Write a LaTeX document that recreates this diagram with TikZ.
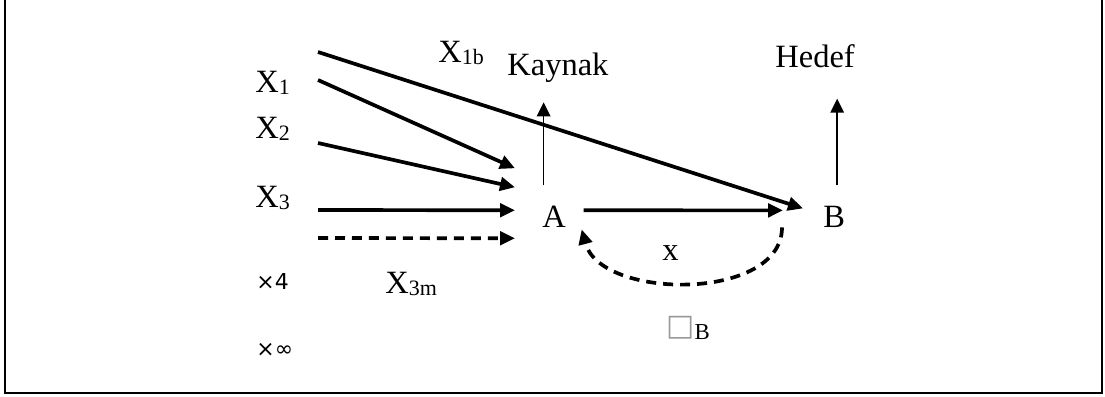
\documentclass[tikz,border=0pt]{standalone}
\usepackage{fontspec}
\setmainfont{Liberation Serif}
\newfontfamily\symfont{DejaVu Sans}
\usetikzlibrary{arrows.meta}
\newcommand{\lowidx}[1]{\raisebox{-1.7pt}{\fontsize{12.5}{13}\selectfont #1}}

\begin{document}
\begin{tikzpicture}[x=0.02cm, y=-0.02cm,
  every node/.style={inner sep=0pt, anchor=base west, font=\fontsize{18.5}{22}\selectfont},
  arr/.style={-{Triangle[length=0.3cm, width=0.27cm]}, line width=2.1pt},
  thinarr/.style={-{Triangle[length=0.28cm, width=0.27cm]}, line width=1pt},
  dasharr/.style={arr, dash pattern=on 0.2cm off 0.14cm},
  small/.style={font=\symfont\fontsize{12.5}{14}\selectfont}]
\useasboundingbox (0,0) rectangle (1105,396);
\draw[line width=1.5pt] (5,0) -- (5,393) -- (1102,393) -- (1102,0);

% labels
\node (lx1) at (255,92) {X\lowidx{1}};
\node (lx2) at (255,138) {X\lowidx{2}};
\node (lx3) at (255,207) {X\lowidx{3}};
\node (lx1b) at (438,62) {X\lowidx{1b}};
\node (lx3m) at (385,293) {X\lowidx{3m}};
\node[small] (lx4) at (256,289) {×4};
\node[small] (lxinf) at (256,356) {×∞};
\node (kaynak) at (507,75) {Kaynak};
\node (hedef) at (775,67) {Hedef};
\node (A) at (542,227) {A};
\node (B) at (823,227) {B};
\node (lx) at (662,260) {x};
\node (lb) at (666,335) {{\symfont\fontsize{17}{17}\selectfont\textcolor{gray!80}{□}}\raisebox{-2.5pt}{\fontsize{13}{13}\selectfont B}};

% start points
\coordinate (xbs) at (318,52);
\coordinate (x1s) at (318,80);
\coordinate (x2s) at (318,143);
\coordinate (x3s) at (318,210);
\coordinate (xms) at (318,238);

% arrows
\draw[arr] (xbs) -- ([xshift=-0.4cm, yshift=0.16cm]B.west);
\draw[arr] (x1s) -- ([xshift=-0.54cm, yshift=0.96cm]A.west);
\draw[arr] (x2s) -- ([xshift=-0.54cm, yshift=0.58cm]A.west);
\draw[arr] (x3s) -- ([xshift=-0.54cm, yshift=0.12cm]A.west);
\draw[dasharr] (xms) -- ([xshift=-0.54cm, yshift=-0.44cm]A.west);
\draw[arr] ([xshift=0.35cm, yshift=0.12cm]A.east) -- ([xshift=-0.8cm, yshift=0.12cm]B.west);
\draw[thinarr, shorten >=0.4cm] ([xshift=-0.21cm, yshift=0.4cm]A.north) -- ([xshift=-0.21cm]A.north |- kaynak.south);
\draw[thinarr, shorten >=0.62cm] ([xshift=0.06cm, yshift=0.4cm]B.north) -- ([xshift=0.06cm]B.north |- hedef.south);
\draw[dasharr] ([xshift=-0.82cm]B.south west) .. controls +(0,74) and +(19,71) .. ([xshift=0.31cm, yshift=-0.04cm]A.south east);
\end{tikzpicture}
\end{document}
